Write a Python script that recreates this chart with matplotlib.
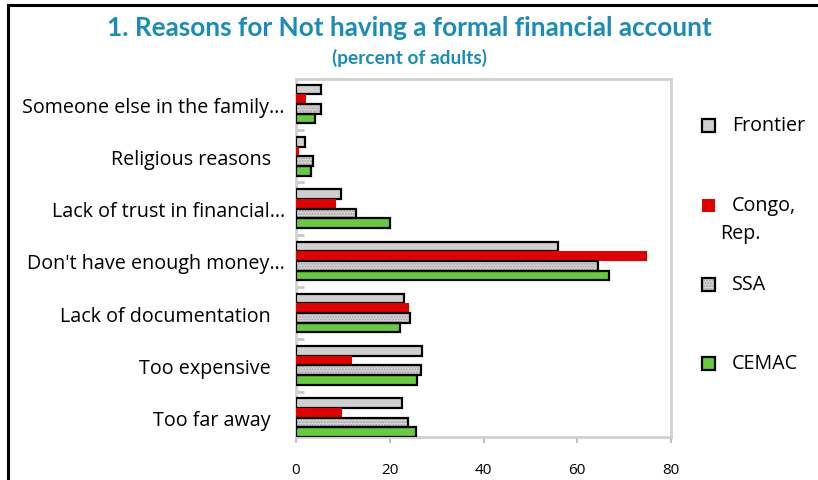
import numpy as np
import matplotlib.pyplot as plt
import matplotlib.transforms as mtransforms
from matplotlib.patches import Rectangle
from matplotlib.lines import Line2D

# categories listed bottom to top (barh draws from the bottom)
categories = ['Too far away', 'Too expensive', 'Lack of documentation',
              "Don't have enough money\u2026", 'Lack of trust in financial\u2026',
              'Religious reasons', 'Someone else in the family\u2026']
frontier = [22.6, 26.8, 23.1, 55.8, 9.7, 2.0, 5.3]
congo = [9.9, 12.0, 24.0, 74.9, 8.6, 0.6, 2.2]
ssa = [23.8, 26.6, 24.4, 64.5, 12.9, 3.6, 5.3]
cemac = [25.6, 25.9, 22.1, 66.7, 20.1, 3.1, 4.1]
series_names = ['Frontier', 'Congo,\nRep.', 'SSA', 'CEMAC']
x_ticks = [0, 20, 40, 60, 80]

plt.rcParams['font.family'] = ['Open Sans', 'DejaVu Sans']

fig = plt.figure(figsize=(8.18, 4.81), dpi=100)
ax = fig.add_axes([0.3619, 0.0894, 0.4584, 0.7443])

y = np.arange(len(categories))
h = 0.185
lw = 1.6

# Frontier (top bar of each group)
ax.barh(y + 1.5 * h, frontier, height=h, color='#d0d0d0', edgecolor='black', linewidth=lw, zorder=3)
# Congo, Rep.
ax.barh(y + 0.5 * h, congo, height=h, color='#e00000', linewidth=0, zorder=3)
# SSA: dotted fill, then black outline
ax.barh(y - 0.5 * h, ssa, height=h, color='#d8d8d8', edgecolor='#a0a0a0', hatch='......', linewidth=0, zorder=3)
ax.barh(y - 0.5 * h, ssa, height=h, color='none', edgecolor='black', linewidth=lw, zorder=4)
# CEMAC
ax.barh(y - 1.5 * h, cemac, height=h, color='#66cc3d', edgecolor='black', linewidth=lw, zorder=3)

ax.set_xlim(0, 80)
ax.set_ylim(-0.37, 6.48)
ax.set_xticks(x_ticks)
ax.set_xticklabels([str(t) for t in x_ticks], fontsize=11)
ax.tick_params(axis='x', length=4, color='#bfbfbf', width=1.5, pad=14)

ax.set_yticks(y)
ax.set_yticklabels(categories, fontsize=14.2)
ax.tick_params(axis='y', length=0, pad=8)
ax.set_yticks(y[:-1] + 0.5, minor=True)
ax.tick_params(axis='y', which='minor', direction='in', length=6, color='#c8c8c8', width=2)

# labels without ellipsis sit a bit further from the axis
for lab in ax.get_yticklabels():
    if not lab.get_text().endswith('\u2026'):
        lab.set_transform(lab.get_transform() + mtransforms.ScaledTranslation(-0.14, 0, fig.dpi_scale_trans))

for s in ax.spines.values():
    s.set_color('#d0d0d0')
    s.set_linewidth(2)

# titles
fig.text(0.500, 0.941, '1. Reasons for Not having a formal financial account', ha='center', va='center',
         fontsize=18.8, fontweight='bold', color='#1a8cb8', family=['Lato', 'DejaVu Sans'])
fig.text(0.500, 0.880, '(percent of adults)', ha='center', va='center',
         fontsize=13.8, fontweight='bold', color='#1a8cb8', family=['Lato', 'DejaVu Sans'])

# legend drawn by hand; each entry is a list of layered patch styles
leg_styles = [
    [dict(facecolor='#d0d0d0', edgecolor='black', linewidth=1.6)],
    [dict(facecolor='#e00000', edgecolor='#e00000', linewidth=0)],
    [dict(facecolor='#d8d8d8', edgecolor='#a0a0a0', linewidth=0, hatch='......'),
     dict(facecolor='none', edgecolor='black', linewidth=1.6)],
    [dict(facecolor='#66cc3d', edgecolor='black', linewidth=1.6)],
]
leg_y = [126, 206, 285, 364]
for name, layers, py in zip(series_names, leg_styles, leg_y):
    fy = 1 - py / 481
    for st in layers:
        fig.patches.append(Rectangle((702 / 818, fy - 6.5 / 481), 13 / 818, 13 / 481,
                                     transform=fig.transFigure, **st))
    if '\n' in name:
        first, second = name.split('\n')
        fig.text(732 / 818, fy, first, ha='left', va='center', fontsize=14.2)
        fig.text(720 / 818, 1 - 234 / 481, second, ha='left', va='center', fontsize=14.2)
    else:
        fig.text(732 / 818, fy, name, ha='left', va='center', fontsize=14.2)

# outer border (left and top only)
fig.add_artist(Line2D([7.5 / 818, 7.5 / 818], [0, 1 - 5.5 / 481], color='black', linewidth=2.2, transform=fig.transFigure))
fig.add_artist(Line2D([7.5 / 818, 1], [1 - 5.5 / 481, 1 - 5.5 / 481], color='black', linewidth=2.2, transform=fig.transFigure))

fig.savefig('out.png', dpi=100)
